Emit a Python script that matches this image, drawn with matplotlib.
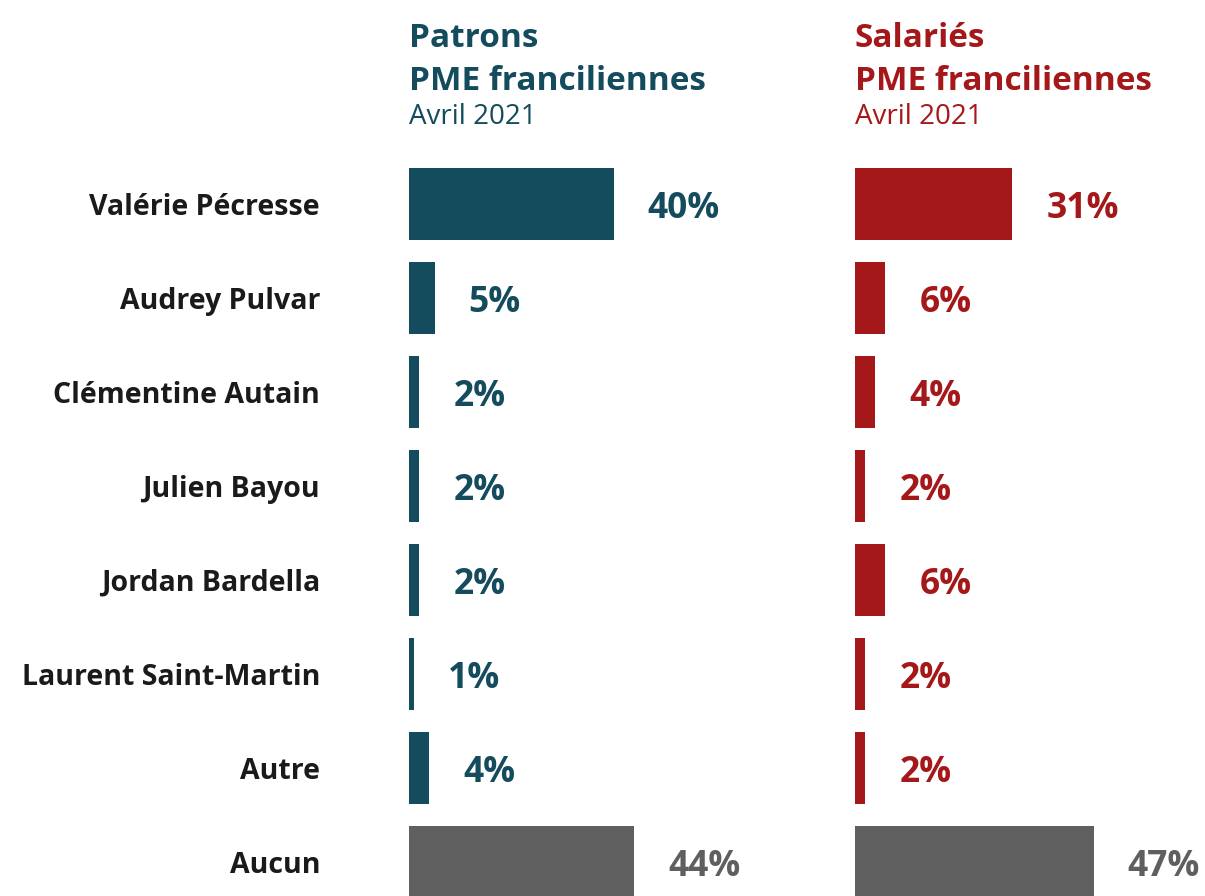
import matplotlib
matplotlib.use("Agg")
import matplotlib.pyplot as plt

plt.rcParams['font.family'] = ['Open Sans', 'DejaVu Sans']

categories = ["Valérie Pécresse", "Audrey Pulvar", "Clémentine Autain", "Julien Bayou",
              "Jordan Bardella", "Laurent Saint-Martin", "Autre", "Aucun"]
patrons = [40, 5, 2, 2, 2, 1, 4, 44]
salaries = [31, 6, 4, 2, 6, 2, 2, 47]
titles = [("Patrons", "PME franciliennes", "Avril 2021"),
          ("Salariés", "PME franciliennes", "Avril 2021")]

TEAL = "#144b5d"
RED = "#a5181a"
GRAY = "#5f5f5f"

W, H = 1205, 896
DPI = 100
fig = plt.figure(figsize=(W / DPI, H / DPI), dpi=DPI)
fig.patch.set_facecolor("white")

row0 = 204.0
step = 94.0
ylim = ((H - row0) / step, -row0 / step)

panels = [(409, 5.12, patrons, TEAL, titles[0]),
          (855, 5.08, salaries, RED, titles[1])]

for x0, pxper, vals, col, ttl in panels:
    ax = fig.add_axes([0, 0, 1, 1])
    ax.set_xlim(-x0 / pxper, (W - x0) / pxper)
    ax.set_ylim(*ylim)
    ax.axis("off")
    ax.patch.set_alpha(0)
    colors = [col] * (len(vals) - 1) + [GRAY]
    ax.barh(range(len(vals)), vals, height=0.77, color=colors, left=0)
    for i, v in enumerate(vals):
        ax.annotate(f"{v}%", xy=(v, i), xytext=(24.5, 0), textcoords="offset points",
                    ha="left", va="center_baseline", fontsize=25.5, fontweight="bold",
                    color=colors[i])
    fig.text(x0 / W, 1 - 47 / H, ttl[0], ha="left", va="baseline",
             fontsize=24, fontweight="bold", color=col)
    fig.text(x0 / W, 1 - 90 / H, ttl[1], ha="left", va="baseline",
             fontsize=24, fontweight="bold", color=col)
    fig.text(x0 / W, 1 - 124 / H, ttl[2], ha="left", va="baseline",
             fontsize=20, color=col)

axl = fig.axes[0]
for i, c in enumerate(categories):
    axl.annotate(c, xy=(0, i), xycoords=("figure fraction", "data"),
                 xytext=(320, 0), textcoords="offset pixels",
                 ha="right", va="center_baseline", fontsize=20.5, fontweight="bold",
                 color="#1a1a1a")

fig.savefig("out.png", dpi=DPI, facecolor="white")
